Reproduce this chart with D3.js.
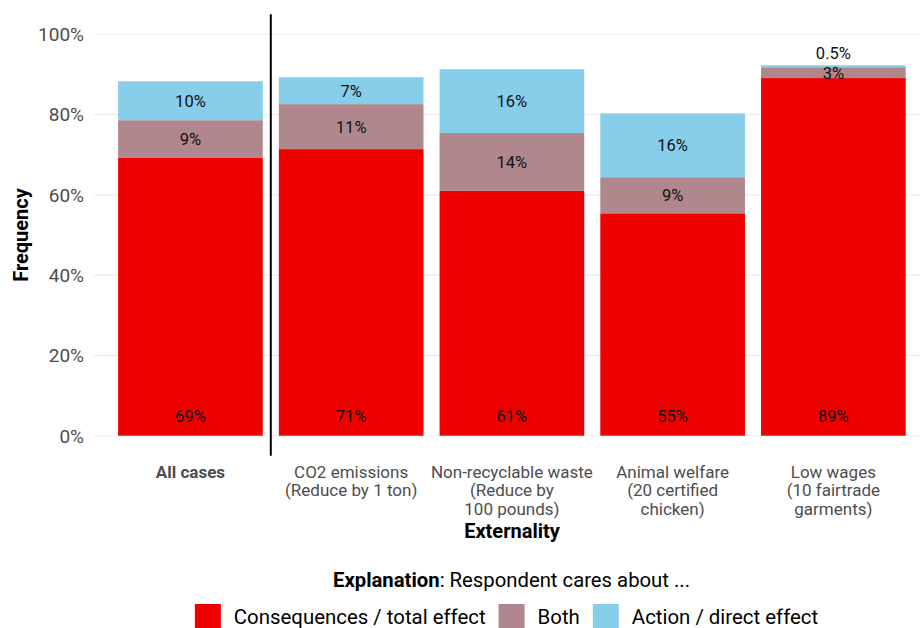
<!DOCTYPE html>
<html>
<head>
<meta charset="utf-8">
<script src="https://cdn.jsdelivr.net/npm/d3@7"></script>
<style>
  html, body { margin: 0; padding: 0; background: #fff; }
  svg { display: block; font-family: Roboto, "Noto Sans", sans-serif; }
</style>
</head>
<body>
<svg id="chart" width="920" height="628"></svg>
<script>
// ---- data ----
const categories = ["All cases", "CO2 emissions", "Non-recyclable waste", "Animal welfare", "Low wages"];
const categoryLines = [
  ["All cases"],
  ["CO2 emissions", "(Reduce by 1 ton)"],
  ["Non-recyclable waste", "(Reduce by", "100 pounds)"],
  ["Animal welfare", "(20 certified", "chicken)"],
  ["Low wages", "(10 fairtrade", "garments)"]
];
const seriesNames = ["Consequences / total effect", "Both", "Action / direct effect"];
const consequences = [69.2, 71.4, 61.0, 55.4, 89.1];
const both         = [9.4, 11.2, 14.4, 9.0, 2.7];
const action       = [9.7, 6.7, 15.9, 15.9, 0.5];
const yTicks = [0, 20, 40, 60, 80, 100];
const colors = ["#ee0000", "#b0878c", "#87ceeb"];

// ---- layout ----
const svg = d3.select("#chart");
const x = d3.scaleBand().domain(categories).range([94, 929.8]).paddingInner(0.1).paddingOuter(0.15);
const y = d3.scaleLinear().domain([0, 100]).range([435.7, 34.3]);

const rows = categories.map((c, i) => ({cat: c, s0: consequences[i], s1: both[i], s2: action[i]}));
const stacked = d3.stack().keys(["s0", "s1", "s2"])(rows);

// gridlines
svg.append("g").selectAll("line").data(yTicks).join("line")
  .attr("x1", 94).attr("x2", 920)
  .attr("y1", d => y(d)).attr("y2", d => y(d))
  .attr("stroke", "#ebebeb").attr("stroke-width", 1.1);

// y tick labels
svg.append("g").selectAll("text").data(yTicks).join("text")
  .attr("x", 84).attr("y", d => y(d)).attr("dy", "0.36em")
  .attr("text-anchor", "end")
  .attr("font-size", 19).attr("fill", "#4d4d4d")
  .text(d => d + "%");

// bars
const layers = svg.append("g").selectAll("g").data(stacked).join("g")
  .attr("fill", (d, i) => colors[i]);
layers.selectAll("rect").data(d => d).join("rect")
  .attr("x", d => x(d.data.cat))
  .attr("width", x.bandwidth())
  .attr("y", d => y(d[1]))
  .attr("height", d => y(d[0]) - y(d[1]));

// bar labels
const fmt = v => v < 1 ? d3.format(".1f")(v) + "%" : Math.round(v) + "%";
stacked.forEach((layer, si) => {
  svg.append("g").selectAll("text").data(layer).join("text")
    .attr("x", d => x(d.data.cat) + x.bandwidth() / 2)
    .attr("y", d => {
      const v = d[1] - d[0];
      if (si === 0) return y(5);
      if (v < 1) return y(d[1]) - 12.5;
      return y((d[0] + d[1]) / 2);
    })
    .attr("dy", "0.36em")
    .attr("text-anchor", "middle")
    .attr("font-size", 16.5).attr("fill", "#111")
    .text(d => fmt(d[1] - d[0]));
});

// separator line between "All cases" and the rest
const sepX = (x(categories[0]) + x.bandwidth() + x(categories[1])) / 2;
svg.append("line")
  .attr("x1", sepX).attr("x2", sepX)
  .attr("y1", y(105)).attr("y2", y(-5))
  .attr("stroke", "#000").attr("stroke-width", 2);

// category labels
categories.forEach((c, i) => {
  const t = svg.append("text")
    .attr("x", x(c) + x.bandwidth() / 2)
    .attr("text-anchor", "middle")
    .attr("font-size", 17)
    .attr("fill", "#4d4d4d")
    .attr("font-weight", i === 0 ? "bold" : "normal");
  categoryLines[i].forEach((line, j) => {
    t.append("tspan").attr("x", x(c) + x.bandwidth() / 2).attr("y", 478 + j * 18.3).text(line);
  });
});

// axis titles
svg.append("text")
  .attr("x", 512).attr("y", 537.5)
  .attr("text-anchor", "middle").attr("font-size", 20).attr("font-weight", "bold").attr("fill", "#000")
  .text("Externality");
svg.append("text")
  .attr("transform", "translate(28,235) rotate(-90)")
  .attr("text-anchor", "middle").attr("font-size", 20).attr("font-weight", "bold").attr("fill", "#000")
  .text("Frequency");

// legend title
const lt = svg.append("text")
  .attr("x", 511.5).attr("y", 586.5)
  .attr("text-anchor", "middle").attr("font-size", 20.3).attr("fill", "#000");
lt.append("tspan").attr("font-weight", "bold").text("Explanation");
lt.append("tspan").text(": Respondent cares about ...");

// legend
const leg = svg.append("g");
let cx = 0;
seriesNames.forEach((name, i) => {
  leg.append("rect").attr("x", cx).attr("y", 604).attr("width", 26).attr("height", 26).attr("fill", colors[i]);
  const t = leg.append("text").attr("x", cx + 39).attr("y", 624.3)
    .attr("font-size", 20.4).attr("fill", "#000").text(name);
  cx += 39 + t.node().getComputedTextLength() + 13;
});
const legW = cx - 13;
leg.attr("transform", `translate(${506.5 - legW / 2},0)`);
</script>
</body>
</html>
